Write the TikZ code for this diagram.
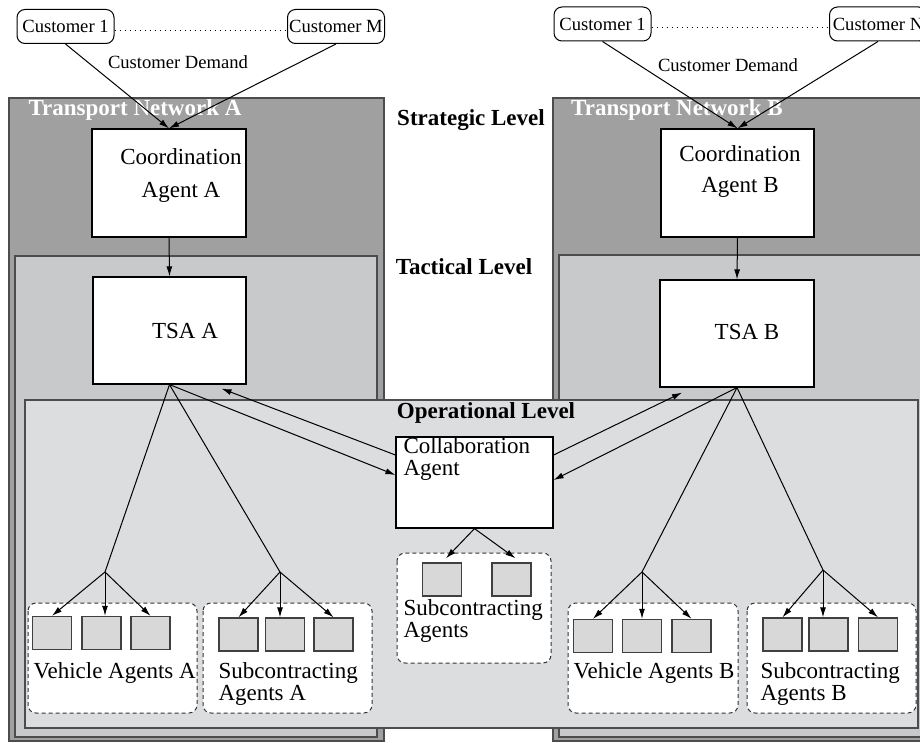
\documentclass[tikz,border=0pt]{standalone}
\usepackage{fontspec}
\setmainfont{Liberation Serif}
\usetikzlibrary{arrows.meta}

\definecolor{stratgray}{RGB}{160,160,160}
\definecolor{tactgray}{RGB}{200,201,203}
\definecolor{opgray}{RGB}{220,221,223}
\definecolor{agentgray}{RGB}{216,216,216}

\begin{document}
\begin{tikzpicture}[x=0.5pt, y=-0.5pt, line width=0.5pt,
    >={Latex[length=5pt,width=3pt]},
    custbox/.style={draw, rounded corners=4pt, minimum width=48.5pt, minimum height=17pt, inner sep=0pt, font=\custfont},
    agentbox/.style={draw, fill=white, line width=0.6pt, inner sep=0pt},
    agentsq/.style={draw=black!75, fill=agentgray, line width=0.7pt, minimum width=19.5pt, minimum height=16.5pt, inner sep=0pt},
    groupbox/.style={draw=black!80, dash pattern=on 2pt off 1.5pt, fill=white, rounded corners=4pt},
    layer/.style={draw=black!70, line width=0.7pt}]
    \newcommand{\custfont}{\fontsize{9.3}{11}\selectfont}
    \newcommand{\agentfont}{\fontsize{11.5}{11}\selectfont}
    \newcommand{\lvlfont}{\fontsize{11.5}{13}\selectfont\bfseries}

    \useasboundingbox (0,0) rectangle (920,743);

    % strategic / tactical / operational layers
    \draw [layer, fill=stratgray] (9,98) rectangle (384,741);
    \draw [layer, fill=stratgray] (553,98) rectangle (935,741);
    \draw [layer, fill=tactgray] (15,256) rectangle (377,737);
    \draw [layer, fill=tactgray] (559,255) rectangle (935,737);
    \draw [layer, fill=opgray] (25,400) rectangle (918,728);

    \node[font=\lvlfont, text=white] (netA) at (135,110) {Transport Network A};
    \node[font=\lvlfont, text=white] (netB) at (677,110) {Transport Network B};
    \node[font=\lvlfont] (lvlStrat) at (471,120) {Strategic Level};
    \node[font=\lvlfont] (lvlTact) at (464,267) {Tactical Level};
    \node[font=\lvlfont] (lvlOper) at (486,413) {Operational Level};

    % customers
    \node[custbox] (custA1) at (65.5,26.5) {Customer 1};
    \node[custbox] (custAM) at (336,26.5) {Customer M};
    \node[custbox] (custB1) at (602.5,24) {Customer 1};
    \node[custbox] (custBN) at (878,24) {Customer N};
    \draw [dotted] ([yshift=-2pt]custA1.east) -- ([yshift=-2pt]custAM.west);
    \draw [dotted] ([yshift=-2pt]custB1.east) -- ([yshift=-2pt]custBN.west);
    \node[font=\custfont] (demA) at (178,62) {Customer Demand};
    \node[font=\custfont] (demB) at (728,65) {Customer Demand};

    % agents A and B
    \node[agentbox, minimum width=77pt, minimum height=54pt] (coordA) at (169,183) {};
    \node[agentbox, minimum width=76.5pt, minimum height=54pt] (coordB) at (737.5,183) {};
    \node[align=center, font=\fontsize{11.5}{16.5}\selectfont] (coordAtxt) at (181,176) {Coordination\\Agent A};
    \node[align=center, font=\fontsize{11.5}{15.5}\selectfont] (coordBtxt) at (740,172) {Coordination\\Agent B};

    \node[agentbox, minimum width=76.5pt, minimum height=53.5pt] (tsaA) at (169.5,330.5) {};
    \node[agentbox, minimum width=77pt, minimum height=53.5pt] (tsaB) at (737,333.5) {};
    \node[font=\agentfont] (tsaAtxt) at (185,331) {TSA A};
    \node[font=\agentfont] (tsaBtxt) at (747,332) {TSA B};

    \node[agentbox, minimum width=78.5pt, minimum height=45.5pt] (collab) at (474.5,482.5) {};
    \node[font=\agentfont, align=left, anchor=west, inner sep=0pt] (collabtxt) at (403,459) {Collaboration\\Agent};

    % agent groups
    \draw [groupbox] (28,603) rectangle (197,713);
    \draw [groupbox] (203,603) rectangle (372,713);
    \draw [groupbox] (397,553) rectangle (551,663);
    \draw [groupbox] (568,603) rectangle (738,713);
    \draw [groupbox] (747,603) rectangle (916,713);

    \foreach \i/\x in {1/52,2/101.5,3/150.5} \node[agentsq] (va\i) at (\x,633) {};
    \foreach \i/\x in {1/238.5,2/285,3/333.5} \node[agentsq] (sa\i) at (\x,634.5) {};
    \foreach \i/\x in {1/442,2/511.5} \node[agentsq] (ms\i) at (\x,579.5) {};
    \foreach \i/\x in {1/593,2/642,3/691.5} \node[agentsq] (vb\i) at (\x,636) {};
    \foreach \i/\x in {1/782.5,2/828.5,3/878} \node[agentsq] (sb\i) at (\x,634.5) {};

    \node[font=\agentfont, anchor=west, inner sep=0pt] (vaTxt) at (33,673) {Vehicle Agents A};
    \node[font=\agentfont, align=left, anchor=west, inner sep=0pt] (saTxt) at (218,684) {Subcontracting\\Agents A};
    \node[font=\agentfont, align=left, anchor=west, inner sep=0pt] (msTxt) at (403,620.5) {Subcontracting\\Agents};
    \node[font=\agentfont, anchor=west, inner sep=0pt] (vbTxt) at (573,673) {Vehicle Agents B};
    \node[font=\agentfont, align=left, anchor=west, inner sep=0pt] (sbTxt) at (760,684) {Subcontracting\\Agents B};

    % connectors
    \draw [->] (custA1.south) -- (coordA.north);
    \draw [->] (custAM.south) -- (coordA.north);
    \draw [->] (custB1.south) -- (coordB.north);
    \draw [->] (custBN.south) -- (coordB.north);
    \draw [->] (coordA.south) -- (tsaA.north);
    \draw [->] (coordB.south) -- (tsaB.north);

    \draw [->] (tsaA.south) -- ([yshift=3.75pt]collab.west);
    \draw [->] ([yshift=13.75pt]collab.west) -- ([xshift=26pt,yshift=-2pt]tsaA.south);
    \draw [->] (tsaB.south) -- ([yshift=1.25pt]collab.east);
    \draw [->] ([yshift=13.75pt]collab.east) -- ([xshift=-27.5pt,yshift=-2.5pt]tsaB.south);

    \coordinate (forkVA) at (105,572);
    \coordinate (forkSA) at (280,572);
    \coordinate (forkVB) at (642,572);
    \coordinate (forkSB) at (823,570);
    \draw (tsaA.south) -- (forkVA);
    \draw (tsaA.south) -- (forkSA);
    \draw (tsaB.south) -- (forkVB);
    \draw (tsaB.south) -- (forkSB);

    \draw [->] (forkVA) -- (va1.north);
    \draw [->] (forkVA) -- (forkVA |- va2.north);
    \draw [->] (forkVA) -- (va3.north);
    \draw [->] (forkSA) -- (sa1.north);
    \draw [->] (forkSA) -- (forkSA |- sa2.north);
    \draw [->] (forkSA) -- (sa3.north);
    \draw [->] (forkVB) -- (vb1.north);
    \draw [->] (forkVB) -- (vb2.north);
    \draw [->] (forkVB) -- (vb3.north);
    \draw [->] (forkSB) -- (sb1.north);
    \draw [->] (forkSB) -- (forkSB |- sb2.north);
    \draw [->] (forkSB) -- (sb3.north);
    \draw [->] (collab.south) -- ([xshift=2pt,yshift=2pt]ms1.north);
    \draw [->] (collab.south) -- ([xshift=2pt,yshift=2pt]ms2.north);

\end{tikzpicture}
\end{document}
